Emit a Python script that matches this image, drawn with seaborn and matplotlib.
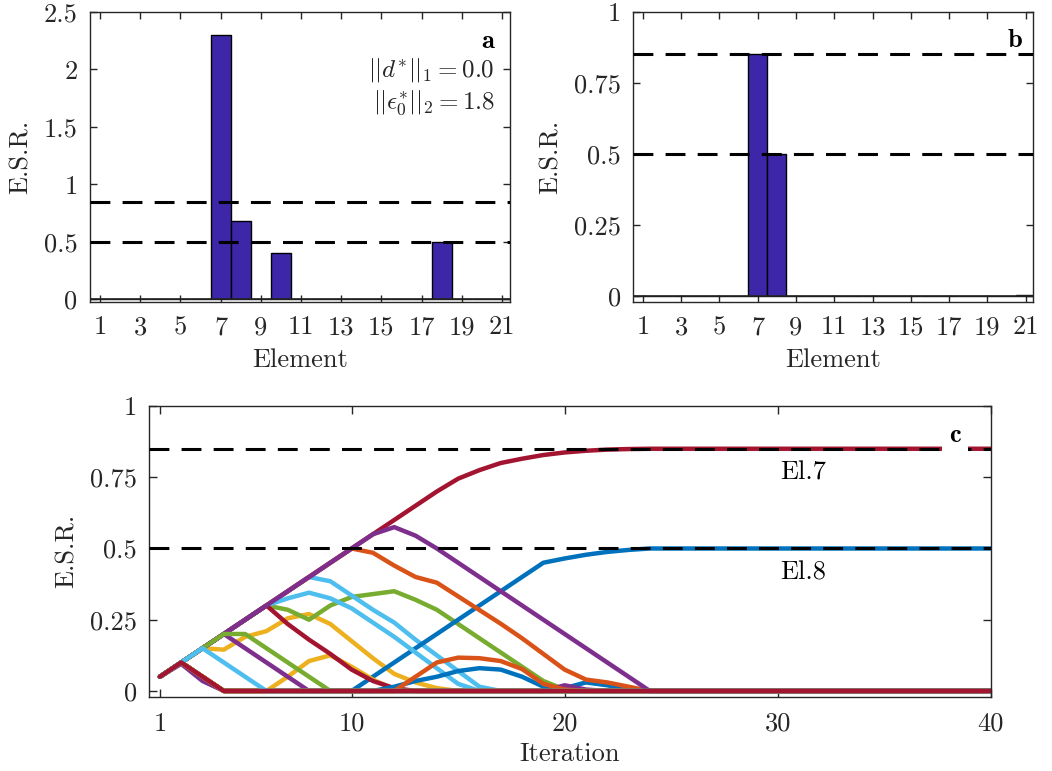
import matplotlib
matplotlib.use("Agg")
import matplotlib.pyplot as plt
import seaborn as sns
import pandas as pd

# panels a and b: element-wise E.S.R.
elements = list(range(1, 22))
esr_a = [0, 0, 0, 0, 0, 0, 2.30, 0.68, 0, 0.40, 0, 0, 0, 0, 0, 0, 0, 0.50, 0, 0, 0]
esr_b = [0, 0, 0, 0, 0, 0, 0.85, 0.50, 0, 0, 0, 0, 0, 0, 0, 0, 0, 0, 0, 0, 0.003]
thresholds = [0.85, 0.5]

# panel c: E.S.R. of each element per iteration (1..40)
iterations = list(range(1, 41))
el_01 = [0.05, 0.10, 0.05] + [0.0] * 16 + [0.01, 0.03, 0.02, 0.005] + [0.0] * 17
el_02 = [0.05, 0.10, 0.05] + [0.0] * 37
el_03 = [0.05, 0.10, 0.15, 0.145, 0.19, 0.21, 0.255, 0.27, 0.235, 0.175, 0.115, 0.06, 0.03, 0.01] + [0.0] * 26
el_04 = [0.05, 0.095, 0.035] + [0.0] * 37
el_05 = [0.05, 0.10, 0.15, 0.20, 0.25, 0.30, 0.285, 0.25, 0.30, 0.33, 0.34, 0.35, 0.32, 0.285,
         0.235, 0.185, 0.135, 0.085, 0.035, 0.005] + [0.0] * 20
el_06 = [0.05, 0.10, 0.15, 0.20, 0.25, 0.30, 0.35, 0.40, 0.385, 0.335, 0.285, 0.24, 0.18, 0.125,
         0.07, 0.015] + [0.0] * 24
el_07 = [0.05, 0.10, 0.15, 0.20, 0.25, 0.30, 0.35, 0.40, 0.45, 0.50, 0.55, 0.60, 0.65, 0.70,
         0.745, 0.775, 0.80, 0.815, 0.828, 0.837, 0.843, 0.847, 0.849] + [0.85] * 17
el_08 = [0.05, 0.10, 0.05, 0, 0, 0, 0, 0, 0, 0, 0.05, 0.10, 0.15, 0.20, 0.25, 0.30, 0.35, 0.40,
         0.45, 0.465, 0.478, 0.488, 0.495] + [0.50] * 17
el_09 = [0.05, 0.10, 0.15, 0.20, 0.25, 0.30, 0.35, 0.40, 0.45, 0.50, 0.485, 0.44, 0.40, 0.38,
         0.332, 0.284, 0.236, 0.185, 0.13, 0.075, 0.04, 0.03, 0.015] + [0.0] * 17
el_10 = [0.05, 0.10, 0.05, 0, 0, 0, 0.05, 0.105, 0.125, 0.085, 0.04, 0.005] + [0.0] * 28
el_11 = [0.05, 0.10, 0.15, 0.20, 0.15, 0.10, 0.05] + [0.0] * 12 + [0.02, 0.005] + [0.0] * 19
el_12 = [0.05, 0.10, 0.05] + [0.0] * 37
el_13 = [0.05, 0.10, 0.15, 0.20, 0.25, 0.30, 0.325, 0.345, 0.325, 0.29, 0.24, 0.19, 0.135,
         0.08, 0.025] + [0.0] * 25
el_14 = [0.05, 0.10, 0.15, 0.20, 0.25, 0.30, 0.235, 0.18, 0.13, 0.075, 0.035, 0.01] + [0.0] * 28
el_15 = [0.05, 0.10, 0.05] + [0.0] * 8 + [0.015, 0.035, 0.05, 0.07, 0.08, 0.075, 0.05, 0.015] + [0.0] * 21
el_16 = [0.05, 0.10, 0.05] + [0.0] * 9 + [0.05, 0.10, 0.117, 0.115, 0.105, 0.077, 0.025, 0.005] + [0.0] * 20
el_17 = [0.05, 0.10, 0.05] + [0.0] * 37
el_18 = [0.05, 0.10, 0.15, 0.20, 0.25, 0.30, 0.35, 0.40, 0.45, 0.50, 0.55, 0.575, 0.545, 0.50,
         0.45, 0.40, 0.35, 0.30, 0.25, 0.20, 0.15, 0.10, 0.05] + [0.0] * 17
el_19 = [0.05, 0.10, 0.15, 0.20, 0.20, 0.15, 0.10, 0.05] + [0.0] * 32
el_20 = [0.05, 0.10, 0.15, 0.10, 0.05] + [0.0] * 35
el_21 = [0.05, 0.10, 0.05] + [0.0] * 37

series = [el_01, el_02, el_03, el_04, el_05, el_06, el_07, el_08, el_09, el_10, el_11,
          el_12, el_13, el_14, el_15, el_16, el_17, el_18, el_19, el_20, el_21]

matlab_colors = ["#0072BD", "#D95319", "#EDB120", "#7E2F8E", "#77AC30", "#4DBEEE", "#A2142F"]
bar_color = "#3D26A8"
axis_gray = "#262626"

sns.set_theme(style="ticks")
plt.rcParams["font.family"] = ["cmr10"]
plt.rcParams["mathtext.fontset"] = "cm"
plt.rcParams["axes.unicode_minus"] = False
plt.rcParams["axes.formatter.use_mathtext"] = True
plt.rcParams["axes.edgecolor"] = axis_gray
plt.rcParams["axes.linewidth"] = 1.0
plt.rcParams["xtick.color"] = axis_gray
plt.rcParams["ytick.color"] = axis_gray
plt.rcParams["text.color"] = axis_gray
plt.rcParams["axes.labelcolor"] = axis_gray

FS = 19
dash = (0, (6.5, 4))

fig = plt.figure(figsize=(10.52, 7.71), dpi=100)
ax_a = fig.add_axes([0.0856, 0.6087, 0.3992, 0.3761])
ax_b = fig.add_axes([0.6020, 0.6087, 0.3802, 0.3761])
ax_c = fig.add_axes([0.1419, 0.0964, 0.7998, 0.3770])


def style_axis(ax, ticklen, pad):
    for sp in ax.spines.values():
        sp.set_visible(True)
        sp.set_color(axis_gray)
    ax.tick_params(direction="in", top=True, right=True, length=ticklen, width=1,
                   labelsize=FS, pad=9)
    ax.tick_params(axis="x", pad=pad)
    ax.set_facecolor("white")


for ax, vals, ymax, yticks, ylabels in [
    (ax_a, esr_a, 2.5, [0, 0.5, 1, 1.5, 2, 2.5], ["0", "0.5", "1", "1.5", "2", "2.5"]),
    (ax_b, esr_b, 1.0, [0, 0.25, 0.5, 0.75, 1], ["0", "0.25", "0.5", "0.75", "1"]),
]:
    sns.barplot(x=elements, y=vals, native_scale=True, width=1, color=bar_color,
                saturation=1, edgecolor="black", linewidth=1, errorbar=None, ax=ax)
    ax.axhline(0, color=axis_gray, lw=1.2, zorder=3)
    for t in thresholds:
        ax.axhline(t, color="black", lw=2.2, ls=dash, zorder=5)
    ax.set_xlim(0.5, 21.4)
    ax.set_ylim(-0.02, ymax)
    ax.set_xticks(list(range(1, 22, 2)))
    ax.set_xticklabels([str(v) for v in range(1, 22, 2)])
    ax.set_yticks(yticks)
    ax.set_yticklabels(ylabels)
    ax.set_xlabel("Element", fontsize=FS, labelpad=6.5)
    ax.set_ylabel("E.S.R.", fontsize=FS, labelpad=8)
    style_axis(ax, 5, 10)

ax_a.text(0.948, 0.899, "a", transform=ax_a.transAxes, ha="center", va="center",
          fontsize=FS, family="cmb10", color="black")
ax_a.text(0.964, 0.800, r"$||d^{*}||_1 = 0.0$", transform=ax_a.transAxes, ha="right",
          va="center", fontsize=18, color=axis_gray)
ax_a.text(0.964, 0.685, r"$||\epsilon^{*}_0||_2 = 1.8$", transform=ax_a.transAxes, ha="right",
          va="center", fontsize=18, color=axis_gray)
ax_b.text(0.954, 0.900, "b", transform=ax_b.transAxes, ha="center", va="center",
          fontsize=FS, family="cmb10", color="black")

# panel c
labels = [f"El.{k}" for k in elements]
df = pd.DataFrame({
    "iteration": iterations * len(series),
    "esr": [v for s in series for v in s],
    "element": [lab for lab in labels for _ in iterations],
})
palette = {lab: matlab_colors[k % 7] for k, lab in enumerate(labels)}
sns.lineplot(data=df, x="iteration", y="esr", hue="element", hue_order=labels,
             palette=palette, estimator=None, sort=False, legend=False, lw=3.2,
             solid_joinstyle="round", ax=ax_c)
for t in thresholds:
    ax_c.axhline(t, color="black", lw=2.2, ls=dash, zorder=5)
ax_c.set_xlim(0.5, 40)
ax_c.set_ylim(-0.02, 1)
ax_c.set_xticks([1, 10, 20, 30, 40])
ax_c.set_xticklabels(["1", "10", "20", "30", "40"])
ax_c.set_yticks([0, 0.25, 0.5, 0.75, 1])
ax_c.set_yticklabels(["0", "0.25", "0.5", "0.75", "1"])
ax_c.set_xlabel("Iteration", fontsize=FS, labelpad=5)
ax_c.set_ylabel("E.S.R.", fontsize=FS, labelpad=8)
style_axis(ax_c, 6, 11)
ax_c.text(30.1, 0.767, "El.7", ha="left", va="center", fontsize=FS, color="black")
ax_c.text(30.1, 0.416, "El.8", ha="left", va="center", fontsize=FS, color="black")
ax_c.text(0.9576, 0.900, "c", transform=ax_c.transAxes, ha="center", va="center",
          fontsize=FS, family="cmb10", color="black", zorder=10,
          bbox=dict(facecolor="white", edgecolor="none", pad=5))

fig.savefig("out.png", dpi=100)
